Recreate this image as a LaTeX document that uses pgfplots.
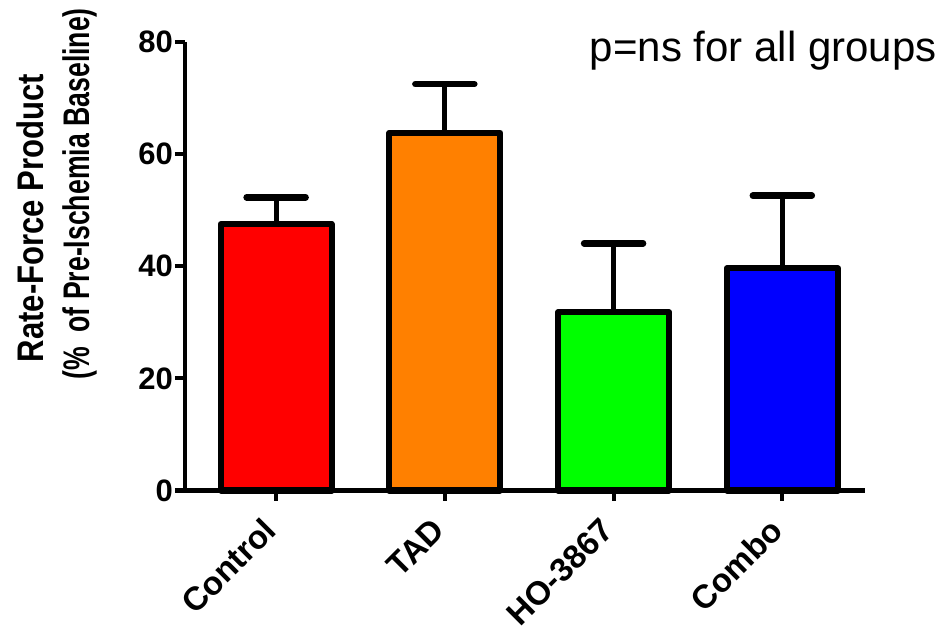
\documentclass[border=0pt]{standalone}
\usepackage{graphicx}
\usepackage{pgfplots}
\pgfplotsset{compat=1.18}
\usepackage{fontspec}
\setmainfont{Liberation Sans}
\begin{document}
\begin{tikzpicture}
\useasboundingbox (0bp,0bp) rectangle (949bp,631bp);
\begin{axis}[
  at={(185bp,140.5bp)}, anchor=south west,
  scale only axis, width=680bp, height=448.5bp,
  xmin=-0.54, xmax=3.49, ymin=0, ymax=80,
  axis x line*=bottom, axis y line*=left,
  axis line style={line width=4bp, black},
  xtick={0,1,2,3}, xticklabels={Control,TAD,HO-3867,Combo},
  ytick={0,20,40,60,80},
  tick align=outside, major tick length=10bp,
  tick style={line width=4bp, black},
  ticklabel style={font=\fontsize{31bp}{36bp}\selectfont\bfseries},
  /pgf/number format/assume math mode=true,
  xticklabel style={font=\fontsize{33bp}{38bp}\selectfont\bfseries, xshift=-6bp, yshift=-24bp, rotate=45, anchor=east, inner sep=0pt},
  yticklabel style={inner sep=0pt, xshift=-2bp},
  ybar, bar width=111bp, bar shift=0pt,
  clip=false,
  every axis plot/.append style={draw=black, line width=6bp, line join=round},
  error bars/error mark=|,
]
\addplot[fill={rgb,255:red,255;green,0;blue,0}, draw=black, line width=6bp,
  error bars/.cd, y dir=plus, y explicit, error mark=|,
  error bar style={line width=5bp, black},
  error mark options={line width=6.5bp, mark size=29.5bp, black, line cap=round}]
  coordinates {(0,47.5) +- (0,4.8)};
\addplot[fill={rgb,255:red,255;green,128;blue,0}, draw=black, line width=6bp,
  error bars/.cd, y dir=plus, y explicit, error mark=|,
  error bar style={line width=5bp, black},
  error mark options={line width=6.5bp, mark size=29.5bp, black, line cap=round}]
  coordinates {(1,63.8) +- (0,8.7)};
\addplot[fill={rgb,255:red,0;green,255;blue,0}, draw=black, line width=6bp,
  error bars/.cd, y dir=plus, y explicit, error mark=|,
  error bar style={line width=5bp, black},
  error mark options={line width=6.5bp, mark size=29.5bp, black, line cap=round}]
  coordinates {(2,31.8) +- (0,12.3)};
\addplot[fill={rgb,255:red,0;green,0;blue,255}, draw=black, line width=6bp,
  error bars/.cd, y dir=plus, y explicit, error mark=|,
  error bar style={line width=5bp, black},
  error mark options={line width=6.5bp, mark size=29.5bp, black, line cap=round}]
  coordinates {(3,39.6) +- (0,13.0)};
\end{axis}
\node[anchor=base east, font=\fontsize{42bp}{50bp}\selectfont] at (940bp,569bp) {p=ns for all groups};
\node[rotate=90, anchor=base, inner sep=0pt, font=\fontsize{37bp}{44bp}\selectfont\bfseries] at (43bp,413bp) {\scalebox{0.84}[1]{Rate-Force Product}};
\node[rotate=90, anchor=base, inner sep=0pt, font=\fontsize{37bp}{44bp}\selectfont\bfseries] at (89bp,437bp) {\scalebox{0.72}[1]{(\%\ \ of Pre-Ischemia Baseline)}};
\end{tikzpicture}
\end{document}
